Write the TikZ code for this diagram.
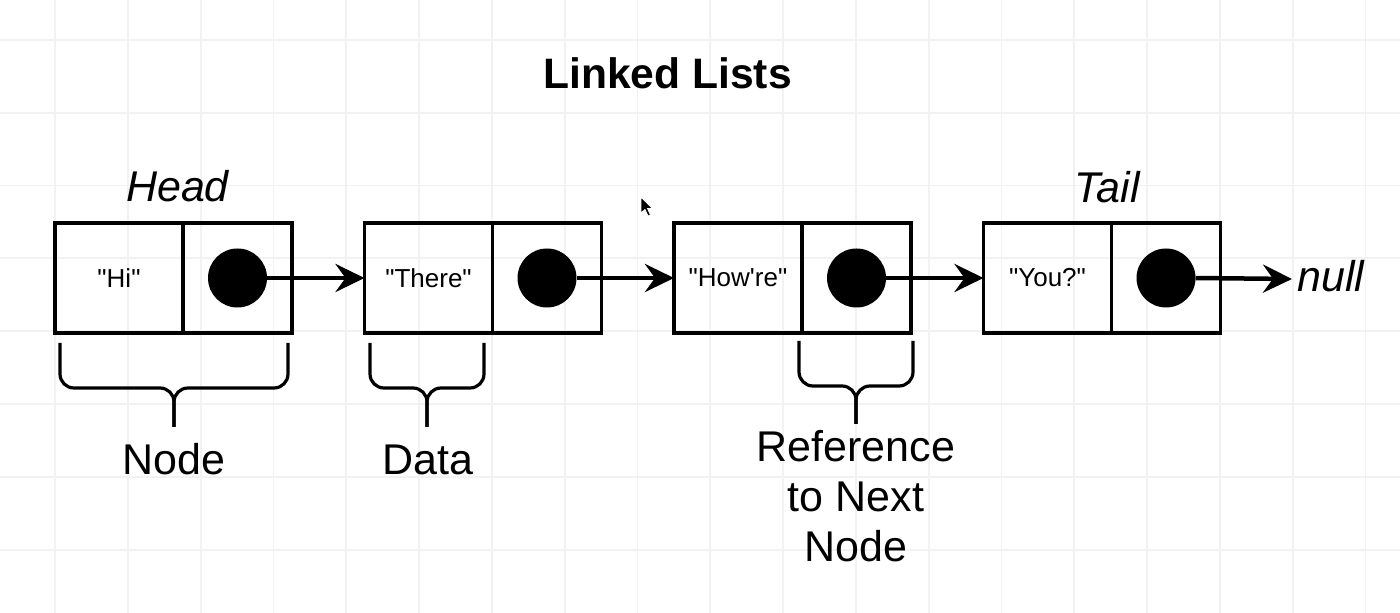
\documentclass[tikz,border=0pt]{standalone}
\usepackage{fontspec}
\setmainfont{Liberation Sans}
\usetikzlibrary{arrows.meta}
\begin{document}
\begin{tikzpicture}[x=0.5pt,y=-0.5pt,
  cell/.style={draw, line width=1.9pt, minimum height=55pt, inner sep=0pt, outer sep=0pt, font=\fontsize{13}{15}\selectfont},
  datacell/.style={cell, minimum width=64pt},
  refcell/.style={cell, minimum width=54.5pt, anchor=west},
  dot/.style={circle, fill=black, minimum size=29.5pt, inner sep=0pt, outer sep=0pt},
  link/.style={line width=2.25pt, -{Stealth[length=14.5pt,width=14pt,inset=5pt]}},
  brace/.style={line width=1.6pt, rounded corners=7pt},
  big/.style={font=\fontsize{21.5}{25}\selectfont, inner sep=0pt},
  bigit/.style={font=\fontsize{21.5}{25}\selectfont\itshape, inner sep=0pt},
  gridline/.style={line width=0.9pt, draw=black!5}
]
\useasboundingbox (0,0) rectangle (1400,613);
\fill[white] (0,0) rectangle (1400,613);
\begin{scope}
  \clip (0,0) rectangle (1400,613);
  \foreach \k in {0,...,20} {\draw[gridline] ({-17.8+72.8*\k},0) -- ({-17.8+72.8*\k},613);}
  \foreach \k in {0,...,9} {\draw[gridline] (0,{-32.8+72.8*\k}) -- (1400,{-32.8+72.8*\k});}
\end{scope}

% title
\node[font=\fontsize{21.3}{25}\selectfont\bfseries, inner sep=0pt, anchor=base] (title) at (667.5,89) {Linked Lists};

% list cells
\node[datacell] (d1) at (119,278) {\textquotedbl Hi\textquotedbl};
\node[refcell] (r1) at (d1.east) {};
\node[datacell] (d2) at (428.5,278) {\textquotedbl There\textquotedbl};
\node[refcell] (r2) at (d2.east) {};
\node[datacell] (d3) at (738,278) {\textquotedbl How\textquotesingle re\textquotedbl};
\node[refcell] (r3) at (d3.east) {};
\node[datacell] (d4) at (1047.5,278) {\textquotedbl You?\textquotedbl};
\node[refcell] (r4) at (d4.east) {};

\node[dot] (c1) at (r1.center) {};
\node[dot] (c2) at (r2.center) {};
\node[dot] (c3) at (r3.center) {};
\node[dot] (c4) at (r4.center) {};

% labels
\node[bigit, anchor=base] (head) at (177.5,202) {Head};
\node[bigit, anchor=base] (tail) at (1107,203) {Tail};
\node[bigit, anchor=base west] (null) at (1297,292) {null};
\coordinate (nullend) at (1292,279);

% links
\draw[link] (c1.east) -- (d2.west);
\draw[link] (c2.east) -- (d3.west);
\draw[link] (c3.east) -- (d4.west);
\draw[link] (c4.east) -- (nullend);

% braces
\draw[brace] (60,343) -- (60,388) -- (174,388) -- (174,427);
\draw[brace] (288,343) -- (288,388) -- (174,388) -- (174,427);
\draw[brace] (370,343) -- (370,388) -- (427,388) -- (427,427);
\draw[brace] (484,343) -- (484,388) -- (427,388) -- (427,427);
\draw[brace] (799,341) -- (799,386) -- (856,386) -- (856,424);
\draw[brace] (913,341) -- (913,386) -- (856,386) -- (856,424);

\node[big, anchor=base] (lnode) at (174,475) {Node};
\node[big, anchor=base] (ldata) at (428,475) {Data};
\node[big, anchor=north, align=center] (lref) at (856,429.5) {Reference\\to Next\\Node};

% mouse pointer
\fill[black, draw=white, line width=0.4pt] (641,197) -- (641,213) -- (645,209.5) -- (648,216) -- (650.5,215) -- (647.5,208.5) -- (652.5,208.5) -- cycle;
\end{tikzpicture}
\end{document}
